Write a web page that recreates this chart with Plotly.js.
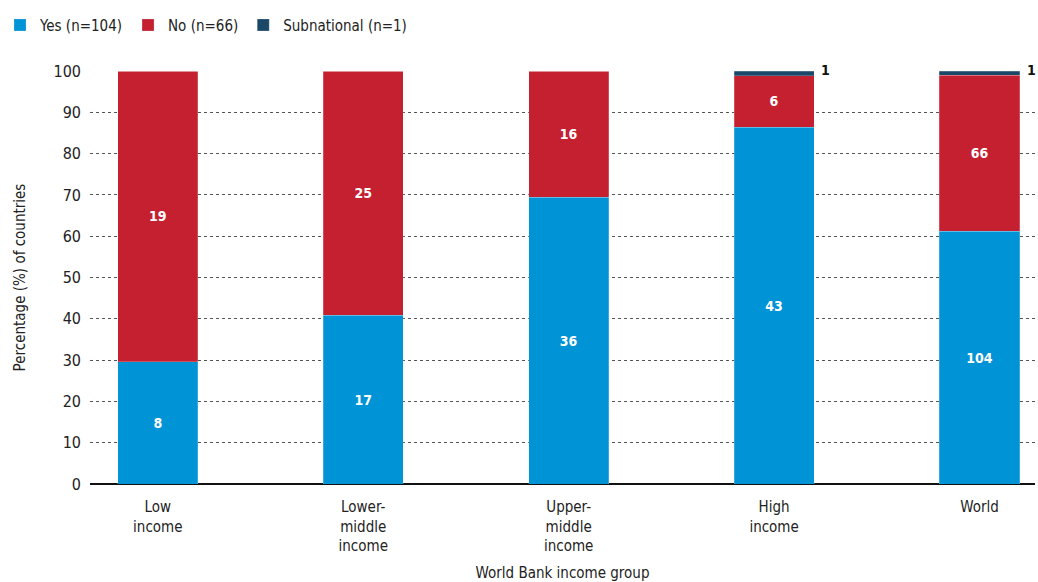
<!DOCTYPE html>
<html>
<head>
<meta charset="utf-8">
<script src="https://cdn.plot.ly/plotly-3.0.1.min.js"></script>
<style>html,body{margin:0;padding:0;background:#fff;}#chart{width:1038px;height:582px;}</style>
</head>
<body>
<div id="chart"></div>
<script>
const categories = ["Low<br>income", "Lower-<br>middle<br>income", "Upper-<br>middle<br>income", "High<br>income", "World"];
// percentages
const yesPct = [29.6, 40.9, 69.4, 86.4, 61.2];
const subPct = [0, 0, 0, 1.1, 1.0];
// count labels shown on the bars
const yesCounts = [8, 17, 36, 43, 104];
const noCounts = [19, 25, 16, 6, 66];
const subCounts = [0, 0, 0, 1, 1];
const seriesNames = ["Yes (n=104)", "No (n=66)", "Subnational (n=1)"];
const colors = ["#0093d5", "#c4202f", "#1b4869"];

const FONT = "'DejaVu Sans Condensed', 'Liberation Sans Narrow', sans-serif";
const noPct = yesPct.map((v, i) => 100 - v - subPct[i]);
const idx = categories.map((c, i) => i);

function barTrace(name, vals, counts, color, showText) {
  return {
    type: "bar", name: name, x: idx, y: vals,
    marker: {color: color, line: {color: "rgba(255,255,255,0.35)", width: 0.6}},
    width: 0.39,
    text: showText ? counts.map(String) : counts.map(() => ""),
    textposition: showText ? "inside" : "none",
    insidetextanchor: "middle",
    textfont: {family: FONT, size: 14, color: "#ffffff", weight: "bold"},
    hoverinfo: "skip"
  };
}

const data = [
  barTrace(seriesNames[0], yesPct, yesCounts, colors[0], true),
  barTrace(seriesNames[1], noPct, noCounts, colors[1], true),
  barTrace(seriesNames[2], subPct, subCounts, colors[2], false)
];

const annotations = [];
subCounts.forEach((v, i) => {
  if (v > 0) annotations.push({
    x: i + 0.195, y: 100, xref: "x", yref: "y", text: String(v), showarrow: false,
    xanchor: "left", yanchor: "middle", xshift: 5, yshift: 1,
    font: {family: FONT, size: 14, color: "#111", weight: "bold"}
  });
});

const layout = {
  width: 1038, height: 582,
  margin: {l: 90, r: 3, t: 71, b: 98},
  barmode: "stack",
  paper_bgcolor: "#fff", plot_bgcolor: "#fff",
  font: {family: FONT, size: 15, color: "#222"},
  showlegend: true,
  legend: {orientation: "h", xref: "container", yref: "container", x: 0.0, y: 0.985,
           xanchor: "left", yanchor: "top", traceorder: "normal",
           font: {family: FONT, size: 15, color: "#222"}, itemwidth: 30, itemclick: false},
  xaxis: {
    range: [-0.33, 4.27], tickmode: "array", tickvals: idx, ticktext: categories,
    showgrid: false, zeroline: false, showline: false, ticks: "", fixedrange: true,
    ticklabelstandoff: 12,
    tickfont: {family: FONT, size: 15, color: "#222"},
    title: {text: "World Bank income group", font: {family: FONT, size: 15, color: "#222"}, standoff: 22}
  },
  yaxis: {
    range: [0, 100], tickmode: "array", tickvals: [0,10,20,30,40,50,60,70,80,90,100],
    showgrid: true, gridcolor: "#555", griddash: "dot", gridwidth: 1,
    zeroline: true, zerolinecolor: "#111", zerolinewidth: 1.5,
    ticks: "", ticklabelstandoff: 8, fixedrange: true,
    tickfont: {family: FONT, size: 16, color: "#222"},
    title: {text: "Percentage (%) of countries", font: {family: FONT, size: 15, color: "#222"}, standoff: 24}
  },
  annotations: annotations
};

Plotly.newPlot("chart", data, layout, {displayModeBar: false, staticPlot: true});
</script>
</body>
</html>
